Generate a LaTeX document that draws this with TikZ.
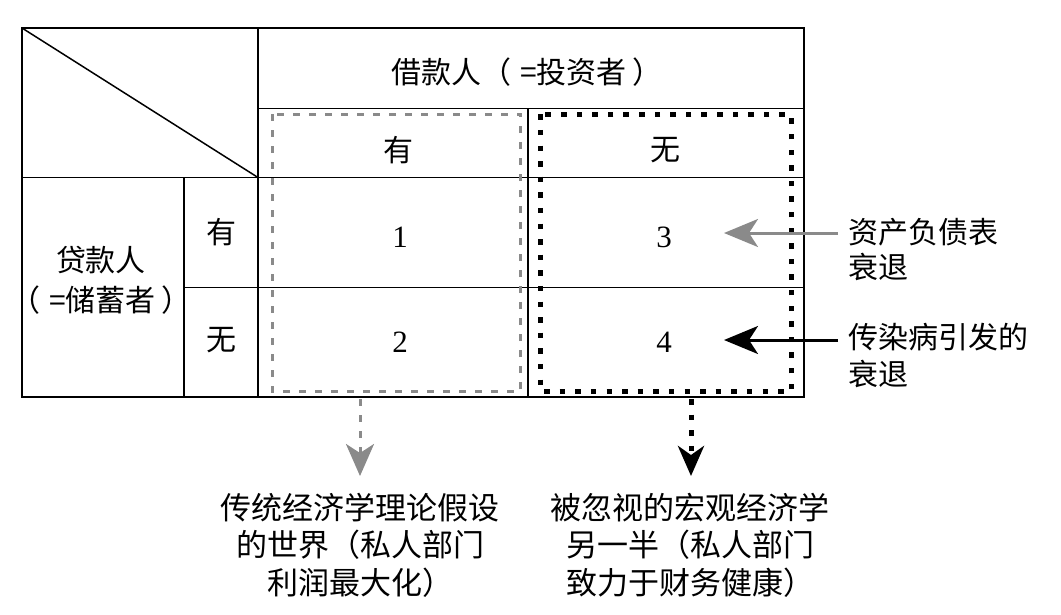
\documentclass[tikz,border=0pt]{standalone}
\usepackage{fontspec}
\setmainfont{Liberation Serif}
\newfontfamily\cjk{Noto Sans CJK SC}
\usetikzlibrary{arrows.meta}
\definecolor{midgray}{HTML}{8A8A8A}
\newcommand\lpar{（\hspace{0.3em}}
\newcommand\rpar{\hspace{0.2em}）}
\begin{document}
\begin{tikzpicture}[x=1pt,y=-1pt,
  grid/.style={draw=black,line width=1.3pt},
  outer/.style={draw=black,line width=2pt},
  txt/.style={font=\cjk\fontsize{30}{37}\selectfont,inner sep=0pt,align=center},
  num/.style={font=\fontsize{31}{37}\selectfont,inner sep=0pt},
  graybox/.style={draw=midgray,line width=3pt,dash pattern=on 7pt off 9pt},
  blackbox/.style={draw=black,line width=5pt,dash pattern=on 5.5pt off 10.1pt},
  grayarrow/.style={draw=midgray,line width=3pt,-{Stealth[length=34pt,width=28pt,inset=9pt]}},
  blackarrow/.style={draw=black,line width=3pt,-{Stealth[length=34pt,width=28pt,inset=9pt]}},
  graydown/.style={draw=midgray,line width=3pt,dash pattern=on 7pt off 9pt,-{Stealth[length=32pt,width=28pt,inset=9pt]}},
  blackdown/.style={draw=black,line width=5pt,dash pattern=on 5.5pt off 10.1pt,-{Stealth[length=30pt,width=26pt,inset=9pt]}}
]
\useasboundingbox (0,0) rectangle (1061,614);

% grid lines
\draw[grid] (258,28) -- (258,397);
\draw[grid] (258,108.5) -- (804,108.5);
\draw[grid] (22,177.5) -- (804,177.5);
\draw[grid] (184,287.5) -- (804,287.5);
\draw[grid] (184,177.5) -- (184,397);
\draw[grid] (528,108.5) -- (528,397);
\draw[line width=1.5pt] (22,28) -- (258,177.5);
\draw[outer] (22,28) rectangle (804,397);

% dashed highlight boxes
\draw[graybox] (272.7,114.3) rectangle (520.7,391.7);
\draw[blackbox] (540.7,114.3) rectangle (791,391.7);

% texts
\node[txt] (head) at (527,72) {借款人\lpar=投资者\rpar};
\node[txt] (colY) at (398,150) {有};
\node[txt] (colN) at (665,150) {无};
\node[txt] (rowY) at (221,232) {有};
\node[txt] (rowN) at (221,340) {无};
\node[txt,font=\cjk\fontsize{30}{40}\selectfont] (lender) at (101,280) {贷款人\\\lpar=储蓄者\rpar};
\node[num] (n1) at (400,237) {1};
\node[num] (n2) at (400,342) {2};
\node[num] (n3) at (664,237) {3};
\node[num] (n4) at (664,342) {4};

\node[txt,align=left,anchor=west,font=\cjk\fontsize{30}{35}\selectfont] (lab1) at (848,250) {资产负债表\\衰退};
\node[txt,align=left,anchor=west,font=\cjk\fontsize{30}{37}\selectfont] (lab2) at (848,356) {传染病引发的\\衰退};

\node[txt,font=\cjk\fontsize{31}{37.5}\selectfont] (bl) at (360,545) {传统经济学理论假设\\的世界（私人部门\\利润最大化）};
\node[txt,font=\cjk\fontsize{31}{37.5}\selectfont] (br) at (690,545) {被忽视的宏观经济学\\另一半（私人部门\\致力于财务健康）};

% arrows
\coordinate (g1s) at (838,233);
\coordinate (g1t) at (724,233);
\coordinate (b1s) at (838,340);
\coordinate (b1t) at (724,340);
\coordinate (gds) at (360,399);
\coordinate (gdt) at (360,476);
\coordinate (bds) at (691,399);
\coordinate (bdt) at (691,476);
\draw[grayarrow] (g1s) -- (g1t);
\draw[blackarrow] (b1s) -- (b1t);
\draw[graydown] (gds) -- (gdt);
\draw[blackdown] (bds) -- (bdt);
\end{tikzpicture}
\end{document}
